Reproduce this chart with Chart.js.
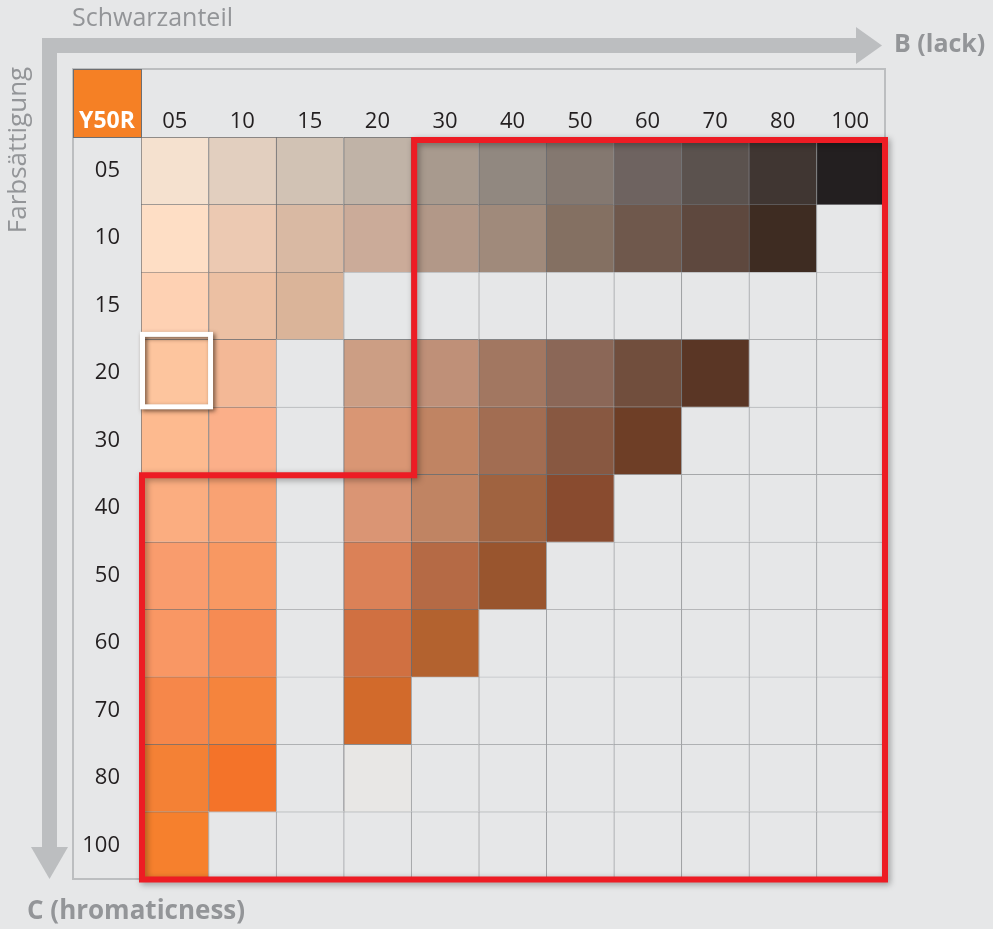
<!DOCTYPE html>
<html>
<head>
<meta charset="utf-8">
<script src="https://cdn.jsdelivr.net/npm/chart.js@4.4.0/dist/chart.umd.min.js"></script>
<style>
  html, body { margin: 0; padding: 0; background: #e6e7e8; }
  #wrap { width: 993px; height: 929px; position: relative; }
</style>
</head>
<body>
<div id="wrap"><canvas id="nuance"></canvas></div>
<script>
// Farbtafel Y50R: Schwarzanteil (Spalten) x Buntanteil (Zeilen)
var hue = 'Y50R';
var columns = ['05', '10', '15', '20', '30', '40', '50', '60', '70', '80', '100'];
var rowLabels = ['05', '10', '15', '20', '30', '40', '50', '60', '70', '80', '100'];

// null = keine Farbe (leeres Feld)
var row05 = ['#f5e1cf', '#e2cfbf', '#d1c2b4', '#c0b3a7', '#a89a8e', '#918880', '#847870', '#6e6360', '#5b524e', '#403632', '#231f20'];
var row10 = ['#fedec5', '#ecc9b2', '#d9b9a3', '#cbab99', '#b29888', '#a08a7b', '#847062', '#6f584c', '#5e483e', '#3e2c22', null];
var row15 = ['#fed1b3', '#ecc0a3', '#dab499', null, null, null, null, null, null, null, null];
var row20 = ['#fdc59e', '#f3b896', null, '#cc9e84', '#bf9078', '#a27761', '#8b6757', '#714e3d', '#5a3625', null, null];
var row30 = ['#fdba8f', '#fbaf89', null, '#d99674', '#c08463', '#a26d52', '#885841', '#6e3e26', null, null, null];
var row40 = ['#fbad80', '#f9a273', null, '#da9574', '#c08463', '#a06340', '#894b2f', null, null, null, null];
var row50 = ['#f99c6d', '#f89862', null, '#db8157', '#b56a45', '#99552e', null, null, null, null, null];
var row60 = ['#f99764', '#f68b53', null, '#d07041', '#b3622f', null, null, null, null, null, null];
var row70 = ['#f6874a', '#f5843d', null, '#d26a2b', null, null, null, null, null, null, null];
var row80 = ['#f48135', '#f47329', null, '#e8e7e5', null, null, null, null, null, null, null];
var row100 = ['#f6802d', null, null, null, null, null, null, null, null, null, null];
var rows = [row05, row10, row15, row20, row30, row40, row50, row60, row70, row80, row100];

var EMPTY = '#e6e7e8';
var GREY = '#bcbec0';
var TEXTGREY = '#939598';
var FONT = '"Open Sans", "Noto Sans", sans-serif';

var datasets = rows.map(function (colors, i) {
    return {
        label: rowLabels[i],
        data: colors.map(function () { return 1; }), // jedes Feld = eine Zeile hoch
        backgroundColor: colors.map(function (c) { return c || EMPTY; }),
        borderColor: colors.map(function (c) { return c ? '#6d6e71' : '#9d9fa2'; }),
        borderWidth: { top: 1, left: 1, right: 0, bottom: 0 },
        borderSkipped: false,
        barPercentage: 1,
        categoryPercentage: 1
    };
});

// Pfeile, Rahmen, Beschriftungen
var decorations = {
    id: 'decorations',
    beforeDatasetsDraw: function (chart) {
        var ctx = chart.ctx;
        var xs = chart.scales.x, ys = chart.scales.y;
        ctx.save();
        // Rahmen
        ctx.strokeStyle = GREY;
        ctx.lineWidth = 2;
        ctx.strokeRect(ys.left, xs.top, xs.right + 1 - ys.left, ys.bottom - xs.top);
        // waagrechter Pfeil
        ctx.fillStyle = GREY;
        ctx.fillRect(42, 38, 816, 15);
        ctx.beginPath();
        ctx.moveTo(856, 27); ctx.lineTo(882, 45.5); ctx.lineTo(856, 64); ctx.closePath();
        ctx.fill();
        // senkrechter Pfeil
        ctx.fillRect(42, 38, 15, 812);
        ctx.beginPath();
        ctx.moveTo(31, 847); ctx.lineTo(49.5, 879); ctx.lineTo(68, 847); ctx.closePath();
        ctx.fill();
        // Texte
        ctx.fillStyle = TEXTGREY;
        ctx.textBaseline = 'middle';
        ctx.textAlign = 'left';
        ctx.font = '25px ' + FONT;
        ctx.fillText('Schwarzanteil', 72, 19);
        ctx.font = 'bold 25px ' + FONT;
        ctx.fillText('B (lack)', 894, 45);
        ctx.font = 'bold 26px ' + FONT;
        ctx.fillText('C (hromaticness)', 27, 912);
        ctx.save();
        ctx.translate(19, 150);
        ctx.rotate(-Math.PI / 2);
        ctx.textAlign = 'center';
        ctx.font = '26px ' + FONT;
        ctx.fillText('Farbsättigung', 0, 0);
        ctx.restore();
        ctx.restore();
    },
    afterDatasetsDraw: function (chart) {
        var ctx = chart.ctx;
        var xs = chart.scales.x, ys = chart.scales.y;
        var cw = (xs.right - xs.left) / columns.length;
        function ex(i) { return xs.left + i * cw; }
        function ey(j) { return ys.getPixelForValue(j); }
        ctx.save();
        // rote Umrandung
        ctx.shadowColor = 'rgba(0,0,0,0.35)';
        ctx.shadowBlur = 6;
        ctx.shadowOffsetX = 2;
        ctx.shadowOffsetY = 2;
        ctx.strokeStyle = '#ed1c24';
        ctx.lineWidth = 6;
        ctx.lineJoin = 'miter';
        ctx.beginPath();
        ctx.moveTo(ex(4) + 3, ey(0) + 3);
        ctx.lineTo(ex(11) + 1, ey(0) + 3);
        ctx.lineTo(ex(11) + 1, ey(11) + 0.5);
        ctx.lineTo(ex(0) + 1, ey(11) + 0.5);
        ctx.lineTo(ex(0) + 1, ey(5) + 1);
        ctx.lineTo(ex(4) + 3, ey(5) + 1);
        ctx.closePath();
        ctx.stroke();
        // weisse Markierung Y50R 2005
        ctx.shadowColor = 'rgba(70,45,30,0.75)';
        ctx.shadowBlur = 4;
        ctx.shadowOffsetX = 2;
        ctx.shadowOffsetY = 2;
        ctx.strokeStyle = '#ffffff';
        ctx.lineWidth = 5;
        ctx.strokeRect(ex(0) + 1.5, ey(3) - 5, cw + 0.5, ey(4) - ey(3) + 5);
        ctx.restore();
    },
    afterDraw: function (chart) {
        var ctx = chart.ctx;
        var xs = chart.scales.x, ys = chart.scales.y;
        ctx.save();
        ctx.fillStyle = '#f58025';
        ctx.fillRect(ys.left, xs.top, ys.right - ys.left, xs.bottom - xs.top);
        ctx.strokeStyle = '#6d6e71';
        ctx.lineWidth = 1;
        ctx.strokeRect(ys.left + 0.5, xs.top + 0.5, ys.right - ys.left, xs.bottom - xs.top);
        ctx.fillStyle = '#ffffff';
        ctx.font = 'bold 23px ' + FONT;
        ctx.textAlign = 'center';
        ctx.textBaseline = 'middle';
        ctx.fillText(hue, (ys.left + ys.right) / 2, xs.bottom - 16);
        ctx.restore();
    }
};

var ctx = document.getElementById('nuance').getContext('2d');
var nuanceChart = new Chart(ctx, {
    type: 'bar',
    data: {
        labels: columns,
        datasets: datasets
    },
    options: {
        responsive: true,
        maintainAspectRatio: false,
        animation: false,
        layout: { padding: { left: 73, top: 69, right: 109, bottom: 50 } },
        plugins: {
            legend: { display: false },
            tooltip: { enabled: false }
        },
        scales: {
            x: {
                position: 'top',
                stacked: true,
                offset: true,
                grid: { display: false, drawTicks: false },
                border: { display: false },
                ticks: {
                    color: '#231f20',
                    font: { family: FONT, size: 22 },
                    padding: 2,
                    maxRotation: 0,
                    autoSkip: false
                },
                afterFit: function (scale) { scale.height = 68; }
            },
            y: {
                stacked: true,
                reverse: true,
                min: 0,
                max: rows.length,
                grid: { display: false, drawTicks: false },
                border: { display: false },
                afterBuildTicks: function (axis) {
                    axis.ticks = rowLabels.map(function (l, i) { return { value: i + 0.5 }; });
                },
                ticks: {
                    color: '#231f20',
                    font: { family: FONT, size: 22 },
                    padding: 21,
                    autoSkip: false,
                    callback: function (value, index) { return rowLabels[index]; }
                },
                afterFit: function (scale) { scale.width = 68; }
            }
        }
    },
    plugins: [decorations]
});
</script>
</body>
</html>
